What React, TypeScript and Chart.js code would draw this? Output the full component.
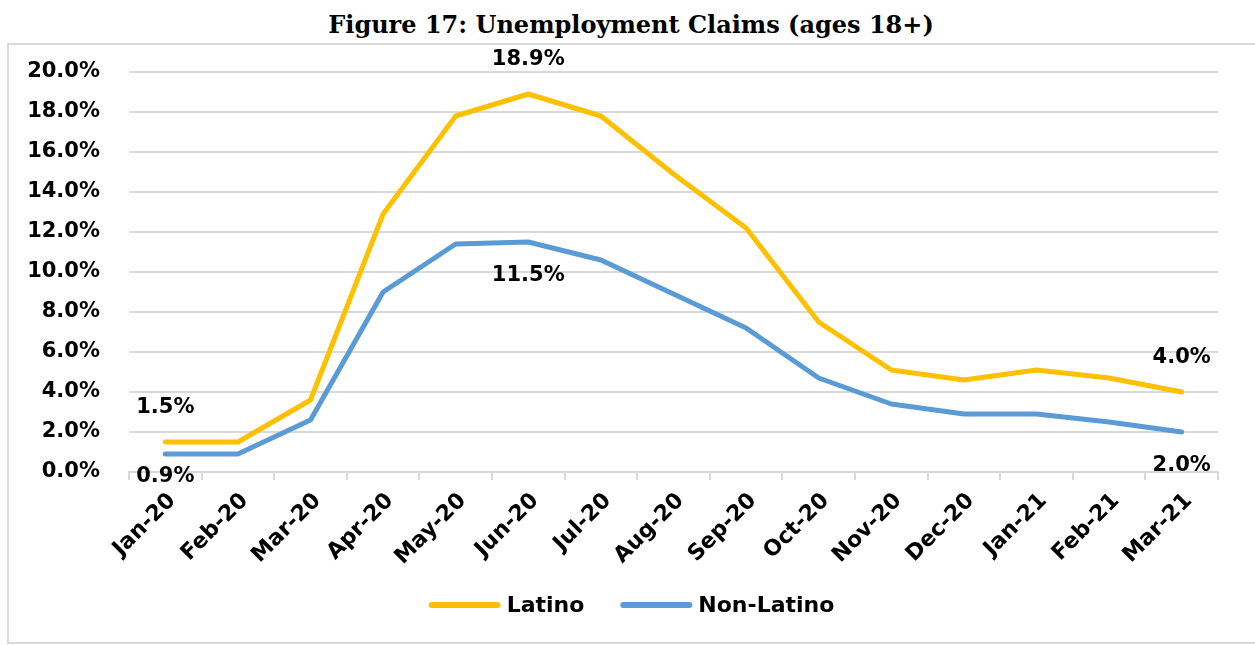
import React, { useEffect, useRef } from "react";
import { Chart, registerables } from "chart.js";

Chart.register(...registerables);

// Monthly share of adults filing unemployment claims
const months = [
  "Jan-20", "Feb-20", "Mar-20", "Apr-20", "May-20", "Jun-20", "Jul-20", "Aug-20",
  "Sep-20", "Oct-20", "Nov-20", "Dec-20", "Jan-21", "Feb-21", "Mar-21",
];
const latino = [1.5, 1.5, 3.6, 12.9, 17.8, 18.9, 17.8, 14.9, 12.2, 7.5, 5.1, 4.6, 5.1, 4.7, 4.0];
const nonLatino = [0.9, 0.9, 2.6, 9.0, 11.4, 11.5, 10.6, 8.9, 7.2, 4.7, 3.4, 2.9, 2.9, 2.5, 2.0];

const seriesNames = ["Latino", "Non-Latino"];
const seriesColors = ["#FFC000", "#5B9BD5"];

const yMin = 0;
const yMax = 20;
const yStep = 2;

// Points that carry a value label: [series, month index, side]
const labelledPoints: [number, number, "above" | "below"][] = [
  [0, 0, "above"],
  [1, 0, "below"],
  [0, 5, "above"],
  [1, 5, "below"],
  [0, 14, "above"],
  [1, 14, "below"],
];

const FONT = "'DejaVu Sans', sans-serif";
const GRID = "#D9D9D9";

const pct = (v: number) => v.toFixed(1) + "%";

const valueLabels = {
  id: "valueLabels",
  afterDatasetsDraw(chart: any) {
    const { ctx, chartArea } = chart;
    ctx.save();
    ctx.font = `bold 21px ${FONT}`;
    ctx.fillStyle = "#000";
    ctx.textAlign = "center";
    ctx.textBaseline = "middle";
    for (const [s, i, side] of labelledPoints) {
      const el = chart.getDatasetMeta(s).data[i];
      const v = chart.data.datasets[s].data[i] as number;
      let y = side === "above" ? el.y - 34 : el.y + 34;
      if (side === "below") y = Math.min(y, chartArea.bottom + 5);
      ctx.fillText(pct(v), el.x, y);
    }
    ctx.restore();
  },
};

const lineLegend = {
  id: "lineLegend",
  afterDraw(chart: any) {
    const { ctx, width } = chart;
    const swatch = 72;
    const textGap = 6;
    const itemGap = 36;
    const cy = 560;
    ctx.save();
    ctx.font = `bold 22px ${FONT}`;
    const widths = seriesNames.map((n) => ctx.measureText(n).width);
    const total =
      widths.reduce((a, w) => a + swatch + textGap + w, 0) + itemGap * (seriesNames.length - 1);
    let x = width / 2 - total / 2;
    seriesNames.forEach((name, k) => {
      ctx.strokeStyle = seriesColors[k];
      ctx.lineWidth = 6;
      ctx.lineCap = "round";
      ctx.beginPath();
      ctx.moveTo(x + 3, cy);
      ctx.lineTo(x + swatch - 3, cy);
      ctx.stroke();
      ctx.fillStyle = "#000";
      ctx.textAlign = "left";
      ctx.textBaseline = "middle";
      ctx.fillText(name, x + swatch + textGap, cy + 1);
      x += swatch + textGap + widths[k] + itemGap;
    });
    ctx.restore();
  },
};

export default function App() {
  const canvasRef = useRef<HTMLCanvasElement | null>(null);

  useEffect(() => {
    const canvas = canvasRef.current;
    if (!canvas) return;
    const chart = new Chart(canvas, {
      type: "line",
      data: {
        labels: months,
        datasets: [latino, nonLatino].map((values, k) => ({
          label: seriesNames[k],
          data: values,
          borderColor: seriesColors[k],
          backgroundColor: seriesColors[k],
          borderWidth: 5,
          borderCapStyle: "round",
          borderJoinStyle: "round",
          pointRadius: 0,
          tension: 0,
        })),
      },
      options: {
        responsive: false,
        animation: false,
        events: [],
        layout: { padding: { top: 27, right: 36, bottom: 59, left: 0 } },
        plugins: {
          legend: { display: false },
          title: { display: false },
          tooltip: { enabled: false },
        },
        scales: {
          x: {
            offset: true,
            afterFit: (scale: any) => {
              scale.height = 110;
            },
            grid: {
              offset: true,
              drawOnChartArea: false,
              drawTicks: true,
              tickLength: 8,
              color: GRID,
              lineWidth: 2,
            },
            border: { color: GRID, width: 2 },
            ticks: {
              minRotation: 45,
              maxRotation: 45,
              autoSkip: false,
              padding: 8,
              labelOffset: 7,
              color: "#000",
              font: { family: FONT, size: 22, weight: "bold" },
            },
          },
          y: {
            min: yMin,
            max: yMax,
            afterFit: (scale: any) => {
              scale.width = 120;
            },
            grid: {
              color: GRID,
              lineWidth: 2,
              drawTicks: true,
              tickLength: 29,
              tickColor: "rgba(0,0,0,0)",
            },
            border: { display: false },
            ticks: {
              stepSize: yStep,
              padding: 0,
              color: "#000",
              font: { family: FONT, size: 21, weight: "bold" },
              callback: (v: any) => pct(Number(v)),
            },
          },
        },
      },
      plugins: [valueLabels, lineLegend],
    });
    return () => chart.destroy();
  }, []);

  return (
    <div
      style={{
        position: "fixed",
        left: 0,
        top: 0,
        width: 1255,
        height: 645,
        overflow: "hidden",
        background: "#fff",
      }}
    >
      <div
        style={{
          position: "absolute",
          left: 0,
          top: 10,
          width: 1262,
          textAlign: "center",
          fontFamily: "'DejaVu Serif', serif",
          fontWeight: "bold",
          fontSize: 24,
          lineHeight: "30px",
          color: "#000",
        }}
      >
        Figure 17: Unemployment Claims (ages 18+)
      </div>
      <div
        style={{
          position: "absolute",
          left: 7,
          top: 43,
          width: 1300,
          height: 597,
          border: `2px solid ${GRID}`,
        }}
      />
      <canvas
        ref={canvasRef}
        width={1245}
        height={596}
        style={{ position: "absolute", left: 9, top: 45, width: 1245, height: 596 }}
      />
    </div>
  );
}
